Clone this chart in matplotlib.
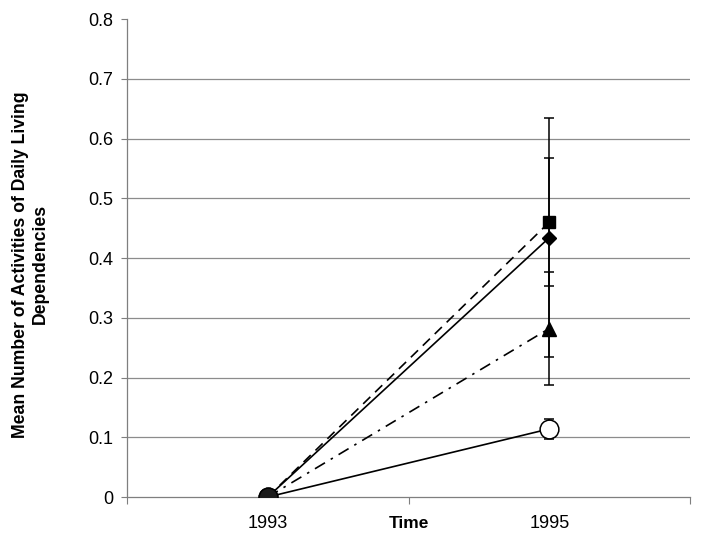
import numpy as np
import matplotlib.pyplot as plt

plt.rcParams['font.family'] = ['Liberation Sans', 'DejaVu Sans']

# data
years = ['1993', '1995']
square_vals = [0.0, 0.460]
square_err = [0.0, 0.107]
diamond_vals = [0.0, 0.434]
diamond_err = [0.0, 0.200]
triangle_vals = [0.0, 0.282]
triangle_err = [0.0, 0.094]
circle_vals = [0.0, 0.114]
circle_err = [0.0, 0.017]
y_ticks = [0, 0.1, 0.2, 0.3, 0.4, 0.5, 0.6, 0.7, 0.8]
y_labels = ['0', '0.1', '0.2', '0.3', '0.4', '0.5', '0.6', '0.7', '0.8']

x = np.arange(len(years)) + 0.5

fig = plt.figure(figsize=(7.03, 5.43), dpi=100)
ax = fig.add_axes([0.1807, 0.0847, 0.8008, 0.8803])

# horizontal grid lines (excel style, none at the top)
for yv in y_ticks[1:-1]:
    ax.axhline(yv, color='#8c8c8c', lw=0.9, zorder=0)

err_kw = dict(ecolor='black', elinewidth=1.1, capsize=3.5, capthick=1.1)

ax.errorbar(x, diamond_vals, yerr=diamond_err, color='black', lw=1.2, ls='-',
            marker='D', ms=7.5, mfc='black', mec='black', zorder=3, **err_kw)
ax.errorbar(x, square_vals, yerr=square_err, color='black', lw=1.2, ls=(0, (6, 4)),
            marker='s', ms=9, mfc='black', mec='black', zorder=3, **err_kw)
ax.errorbar(x, triangle_vals, yerr=triangle_err, color='black', lw=1.2,
            ls=(0, (7, 4, 1.5, 4)), marker='^', ms=10, mfc='black', mec='black',
            zorder=3, **err_kw)
ax.errorbar(x, circle_vals, yerr=circle_err, color='black', lw=1.2, ls='-',
            marker='o', ms=13.5, mfc='white', mec='black', mew=1.1, zorder=4, **err_kw)
# at 1993 all points overlap and show as a dark disc
ax.plot(x[0], circle_vals[0], marker='o', ms=13.5, mfc='#1a1a1a', mec='black',
        ls='none', zorder=5)

ax.set_xlim(0, 2)
ax.set_ylim(0, 0.8)

ax.set_xticks([0, 1, 2])
ax.set_xticklabels([])
ax.set_xticks(x, minor=True)
ax.set_xticklabels(years, minor=True, fontsize=13)
ax.tick_params(axis='x', which='major', direction='out', length=5, color='#7f7f7f')
ax.tick_params(axis='x', which='minor', length=0, pad=13)

ax.set_yticks(y_ticks)
ax.set_yticklabels(y_labels, fontsize=13)
ax.tick_params(axis='y', direction='out', length=4, color='#7f7f7f', pad=6)

for side in ['top', 'right']:
    ax.spines[side].set_visible(False)
for side in ['left', 'bottom']:
    ax.spines[side].set_color('#7f7f7f')
    ax.spines[side].set_linewidth(0.9)

ax.set_xlabel('Time', fontsize=12.5, fontweight='bold')
ax.xaxis.set_label_coords(0.5, -0.04)
ax.set_ylabel('Mean Number of Activities of Daily Living\nDependencies',
              fontsize=12.7, fontweight='bold', linespacing=1.2)
ax.yaxis.set_label_coords(-0.1385, 0.487)

fig.savefig('out.png', dpi=100)
